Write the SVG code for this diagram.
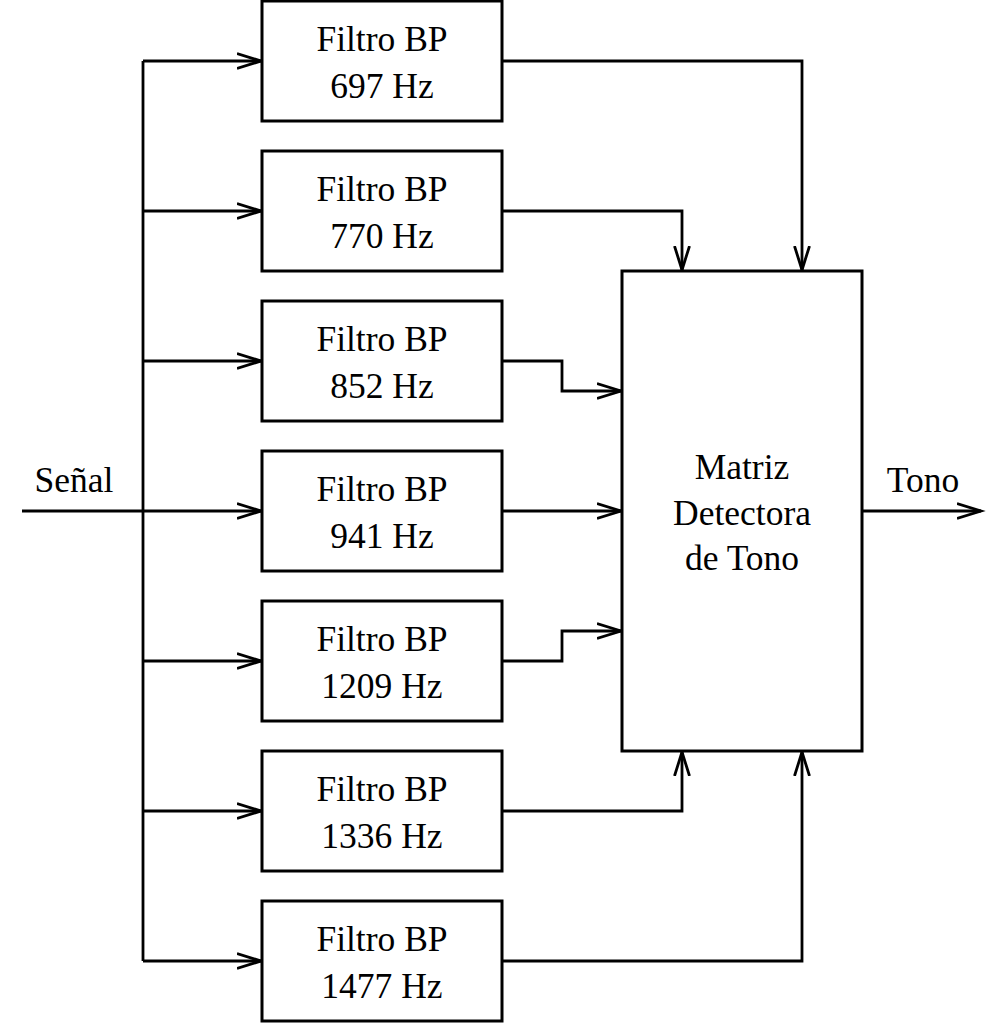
<svg xmlns="http://www.w3.org/2000/svg" width="1008" height="1023" viewBox="0 0 1008 1023">
<style>
.box{fill:#fff;stroke:#000;stroke-width:3}
.ln{fill:none;stroke:#000;stroke-width:2.8}
text{font-family:"Liberation Serif","Times New Roman",serif;font-size:35.5px;fill:#000;text-anchor:middle}
</style>
<defs>
<marker id="arr" markerUnits="userSpaceOnUse" markerWidth="30" markerHeight="20" refX="24" refY="8" orient="auto" viewBox="0 0 30 16">
<path d="M0,0.5 L24,8 L0,15.5" fill="none" stroke="#000" stroke-width="2.8"/>
</marker>
</defs>
<rect width="1008" height="1023" fill="#fff"/>
<g id="connectors">
<path class="ln" d="M22,511 H261" marker-end="url(#arr)"/>
<path class="ln" d="M143,61 V961"/>
<path class="ln" d="M143,61 H261" marker-end="url(#arr)"/>
<path class="ln" d="M143,211 H261" marker-end="url(#arr)"/>
<path class="ln" d="M143,361 H261" marker-end="url(#arr)"/>
<path class="ln" d="M143,661 H261" marker-end="url(#arr)"/>
<path class="ln" d="M143,811 H261" marker-end="url(#arr)"/>
<path class="ln" d="M143,961 H261" marker-end="url(#arr)"/>
<path class="ln" d="M502,61 H802 V270" marker-end="url(#arr)"/>
<path class="ln" d="M502,211 H682 V270" marker-end="url(#arr)"/>
<path class="ln" d="M502,361 H562 V391 H621" marker-end="url(#arr)"/>
<path class="ln" d="M502,511 H621" marker-end="url(#arr)"/>
<path class="ln" d="M502,661 H562 V631 H621" marker-end="url(#arr)"/>
<path class="ln" d="M502,811 H682 V752" marker-end="url(#arr)"/>
<path class="ln" d="M502,961 H802 V752" marker-end="url(#arr)"/>
<path class="ln" d="M862,511 H981" marker-end="url(#arr)"/>
</g>
<g id="f697"><rect class="box" x="262" y="1" width="240" height="120"/><text x="382" y="51">Filtro BP</text><text x="382" y="98">697 Hz</text></g>
<g id="f770"><rect class="box" x="262" y="151" width="240" height="120"/><text x="382" y="201">Filtro BP</text><text x="382" y="248">770 Hz</text></g>
<g id="f852"><rect class="box" x="262" y="301" width="240" height="120"/><text x="382" y="351">Filtro BP</text><text x="382" y="398">852 Hz</text></g>
<g id="f941"><rect class="box" x="262" y="451" width="240" height="120"/><text x="382" y="501">Filtro BP</text><text x="382" y="548">941 Hz</text></g>
<g id="f1209"><rect class="box" x="262" y="601" width="240" height="120"/><text x="382" y="651">Filtro BP</text><text x="382" y="698">1209 Hz</text></g>
<g id="f1336"><rect class="box" x="262" y="751" width="240" height="120"/><text x="382" y="801">Filtro BP</text><text x="382" y="848">1336 Hz</text></g>
<g id="f1477"><rect class="box" x="262" y="901" width="240" height="120"/><text x="382" y="951">Filtro BP</text><text x="382" y="998">1477 Hz</text></g>
<g id="matriz"><rect class="box" x="622" y="271" width="240" height="480"/><text x="742" y="479">Matriz</text><text x="742" y="525">Detectora</text><text x="742" y="570">de Tono</text></g>
<g id="labels"><text x="74" y="492">Señal</text><text x="923" y="492">Tono</text></g>
</svg>
